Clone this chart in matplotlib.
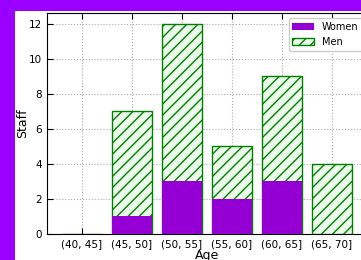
import numpy as np
import matplotlib.pyplot as plt
from matplotlib.patches import Rectangle

# Data
Ages = ['(40, 45]', '(45, 50]', '(50, 55]', '(55, 60]', '(60, 65]', '(65, 70]']
Women = [0, 1, 3, 2, 3, 0]
Men = [0, 6, 9, 3, 6, 4]

plt.rcParams['hatch.color'] = 'green'
plt.rcParams['hatch.linewidth'] = 1.0

fig = plt.figure(figsize=(3.61, 2.60), dpi=100, facecolor='#9900ff')
fig.patches.append(Rectangle((15/361, 0), 1, 1 - 11/260, transform=fig.transFigure,
                             facecolor='white', edgecolor='none', zorder=-1))

ax = fig.add_axes([47/361, 26/260, 320/361, 221/260])
x = np.arange(len(Ages))
Total = np.array(Women) + np.array(Men)
# men drawn as full stack, women on top of it
ax.bar(x, Total, width=0.8, color='#ecfaec', edgecolor='green', linewidth=1.0,
       hatch='///', label='Men', zorder=3)
ax.bar(x, Women, width=0.8, color='#9400d3', edgecolor='none', label='Women', zorder=4)

ax.set_xticks(x)
ax.set_xticklabels(Ages, fontsize=7.5)
ax.set_xlim(-0.7, 5.7)
ax.set_ylim(0, 12.6)
ax.set_yticks([0, 2, 4, 6, 8, 10, 12])
ax.tick_params(axis='y', labelsize=7.5)
ax.tick_params(direction='in', top=True, right=True, length=4)
ax.set_xlabel('Age', fontsize=9, labelpad=0)
ax.set_ylabel('Staff', fontsize=9)
ax.yaxis.set_label_coords(-0.056, 0.5)
ax.grid(True, linestyle=':', color='#aaaaaa', linewidth=0.8, zorder=0)
ax.set_axisbelow(True)
h, l = ax.get_legend_handles_labels()
ax.legend(h[::-1], l[::-1], loc='upper right', fontsize=7, handlelength=2.2, framealpha=1)

fig.savefig('out.png', dpi=100, facecolor=fig.get_facecolor())
